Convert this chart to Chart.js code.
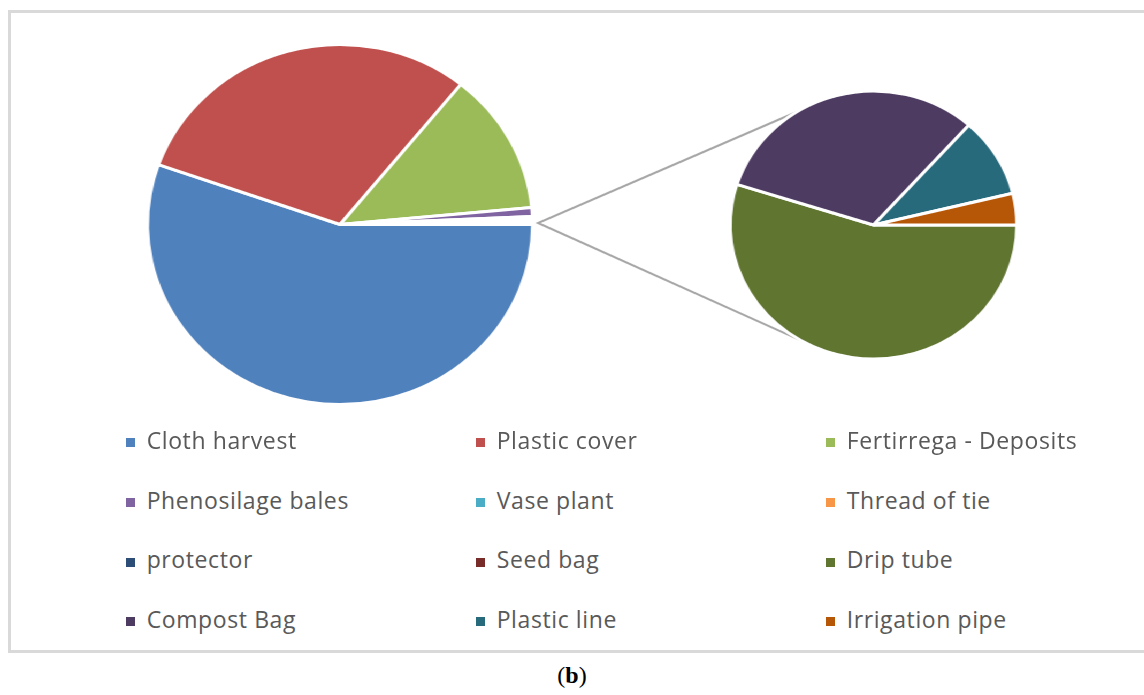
<!DOCTYPE html>
<html><head><meta charset="utf-8">
<script src="https://cdn.jsdelivr.net/npm/chart.js@4.4.1/dist/chart.umd.min.js"></script>
<style>
html,body{margin:0;padding:0;background:#fff;width:1144px;height:695px;overflow:hidden;position:relative;}
#frame{position:absolute;left:8px;top:10px;width:1160px;height:637px;border:3px solid #d9d9d9;}
#plot{position:absolute;left:0;top:0;width:1070px;height:460px;transform-origin:0 0;transform:scaleX(1.07);}
.cw{position:absolute;left:0;top:0;width:1070px;height:460px;}
.item{position:absolute;font-family:'Open Sans',sans-serif;font-size:23px;letter-spacing:0.6px;color:#595959;white-space:nowrap;line-height:23px;}
.item i{position:absolute;width:9px;height:9px;left:0;top:-4.5px;}
.item span{position:absolute;left:20.7px;top:-13.6px;}
#caption{position:absolute;top:662px;left:0;width:1144px;text-align:center;font-family:'Liberation Serif',serif;font-size:24px;color:#000;}
</style>
</head><body>
<div id="frame"></div>
<div id="plot">
  <div class="cw"><canvas id="left"></canvas></div>
  <div class="cw"><canvas id="right"></canvas></div>
</div>
<div id="legend"></div>
<div id="caption">(<b>b</b>)</div>
<script>
// ---- data ----
const categories = ['Cloth harvest','Plastic cover','Fertirrega - Deposits','Phenosilage bales','Vase plant','Thread of tie','protector','Seed bag','Drip tube','Compost Bag','Plastic line','Irrigation pipe'];
const colors = ['#4F81BD','#C0504D','#9BBB59','#8064A2','#4BACC6','#F79646','#2C4D75','#772C2A','#5F7530','#4D3B62','#276A7C','#B65708'];
// first pie (percent of total); last entry = "Other" (second pie combined)
const firstPieLabels = ['Cloth harvest','Plastic cover','Fertirrega - Deposits','Phenosilage bales','Vase plant','Thread of tie','protector','Seed bag','Other'];
const firstPieValues = [55.4, 30.4, 12.7, 0.8, 0, 0, 0, 0, 0.7];
// second pie (share of "Other", percent)
const secondPieLabels = ['Drip tube','Compost Bag','Plastic line','Irrigation pipe'];
const secondPieValues = [54.9, 31.7, 9.6, 3.8];

const colorOf = l => l === 'Other' ? 'rgba(255,255,255,0)' : colors[categories.indexOf(l)];

const common = {
  responsive: true, maintainAspectRatio: false, animation: false, events: [],
  rotation: 90,
  plugins: { legend: { display: false }, tooltip: { enabled: false } }
};

const leftChart = new Chart(document.getElementById('left'), {
  type: 'pie',
  data: { labels: firstPieLabels, datasets: [{ data: firstPieValues,
    backgroundColor: firstPieLabels.map(colorOf), borderColor: '#ffffff', borderWidth: 3, radius: 180 }] },
  options: Object.assign({}, common, { layout: { padding: { left: 0, right: 434.4, top: 0, bottom: 11 } } })
});

const connector = {
  id: 'connector',
  beforeDatasetsDraw(chart) {
    const lm = leftChart.getDatasetMeta(0).data;
    const other = lm[lm.length - 1].getProps(['x','y','endAngle','outerRadius'], true);
    const vx = other.x + (other.outerRadius + 5) * Math.cos(other.endAngle);
    const vy = other.y + (other.outerRadius + 5) * Math.sin(other.endAngle) - 1.5;
    const r = chart.getDatasetMeta(0).data[0].getProps(['x','y','outerRadius'], true);
    const a1 = -122.5 * Math.PI / 180, a2 = 121 * Math.PI / 180;
    const ctx = chart.ctx;
    ctx.save();
    ctx.strokeStyle = '#a6a6a6';
    ctx.lineWidth = 2;
    ctx.beginPath();
    ctx.moveTo(r.x + r.outerRadius * Math.cos(a1), r.y + r.outerRadius * Math.sin(a1));
    ctx.lineTo(vx, vy);
    ctx.lineTo(r.x + r.outerRadius * Math.cos(a2), r.y + r.outerRadius * Math.sin(a2));
    ctx.stroke();
    ctx.restore();
  }
};

const rightChart = new Chart(document.getElementById('right'), {
  type: 'pie',
  data: { labels: secondPieLabels, datasets: [{ data: secondPieValues,
    backgroundColor: secondPieLabels.map(colorOf), borderColor: '#ffffff', borderWidth: 3, radius: 134 }] },
  options: Object.assign({}, common, { layout: { padding: { left: 562.8, right: 0, top: 0, bottom: 10 } } }),
  plugins: [connector]
});

// ---- legend ----
const legend = document.getElementById('legend');
const colX = [126, 476, 826];
const rowY = [442.5, 502.2, 562, 621.7];
categories.forEach((c, i) => {
  const d = document.createElement('div');
  d.className = 'item';
  d.style.left = colX[i % 3] + 'px';
  d.style.top = rowY[Math.floor(i / 3)] + 'px';
  d.innerHTML = '<i style="background:' + colors[i] + '"></i><span>' + c + '</span>';
  legend.appendChild(d);
});
</script>
</body></html>
